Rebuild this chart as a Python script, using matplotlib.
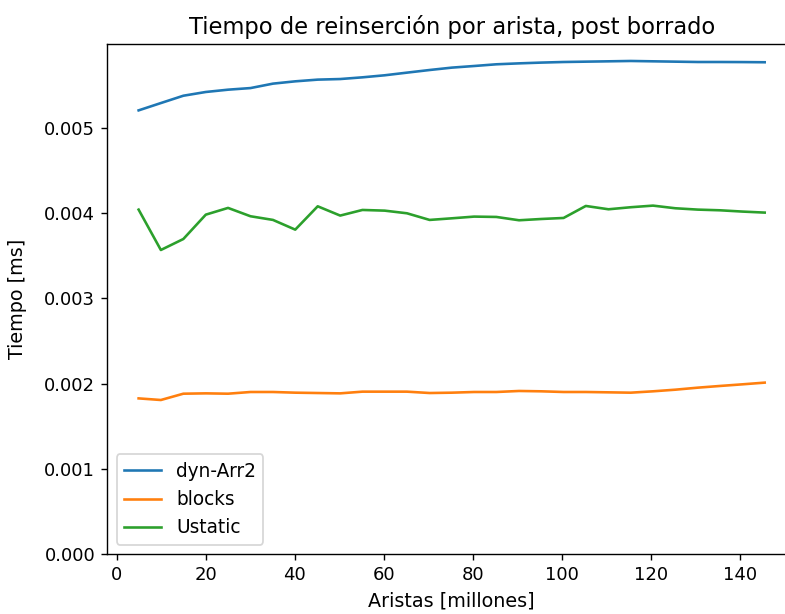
import matplotlib
matplotlib.use("Agg")
import matplotlib.pyplot as plt

# aristas en millones
aristas = [4.9, 9.9, 14.95, 20.0, 25.0, 30.05, 35.1, 40.1, 45.15, 50.2,
           55.2, 60.2, 65.2, 70.3, 75.3, 80.3, 85.3, 90.4, 95.4, 100.4,
           105.4, 110.5, 115.5, 120.5, 125.5, 130.6, 135.6, 140.6, 145.6]

dyn_arr2 = [0.005208, 0.005294, 0.005380, 0.005424, 0.005451, 0.005470, 0.005522,
            0.005549, 0.005569, 0.005576, 0.005596, 0.005620, 0.005651, 0.005682,
            0.005710, 0.005729, 0.005749, 0.005760, 0.005769, 0.005776, 0.005780,
            0.005784, 0.005788, 0.005784, 0.005780, 0.005776, 0.005776, 0.005775,
            0.005773]

blocks = [0.001827, 0.001808, 0.001882, 0.001886, 0.001882, 0.001902, 0.001902,
          0.001894, 0.001890, 0.001886, 0.001906, 0.001906, 0.001906, 0.001890,
          0.001894, 0.001902, 0.001902, 0.001914, 0.001910, 0.001902, 0.001902,
          0.001898, 0.001894, 0.001910, 0.001929, 0.001953, 0.001973, 0.001992,
          0.002012]

ustatic = [0.004043, 0.003569, 0.003698, 0.003984, 0.004063, 0.003965, 0.003922,
           0.003808, 0.004082, 0.003973, 0.004039, 0.004031, 0.004000, 0.003922,
           0.003941, 0.003961, 0.003957, 0.003918, 0.003933, 0.003945, 0.004086,
           0.004047, 0.004071, 0.004090, 0.004059, 0.004043, 0.004035, 0.004020,
           0.004008]

fig = plt.figure(figsize=(6.28, 4.912), dpi=125)
# el eje derecho queda fuera de la imagen, como en la original (recortada)
ax = fig.add_axes([0.1367, 0.0977, 1.014 - 0.1367, 0.9283 - 0.0977])

ax.plot(aristas, dyn_arr2, label="dyn-Arr2")
ax.plot(aristas, blocks, label="blocks")
ax.plot(aristas, ustatic, label="Ustatic")

ax.set_ylim(bottom=0)
ax.set_title("Tiempo de reinserción por arista, post borrado", fontsize=13)
ax.set_xlabel("Aristas [millones]", fontsize=11)
ax.set_ylabel("Tiempo [ms]", fontsize=11)
ax.yaxis.set_label_coords(-0.116, 0.5)
ax.tick_params(labelsize=10.4)
ax.legend(loc="lower left", fontsize=10.7)

fig.savefig("out.png", dpi=125)
